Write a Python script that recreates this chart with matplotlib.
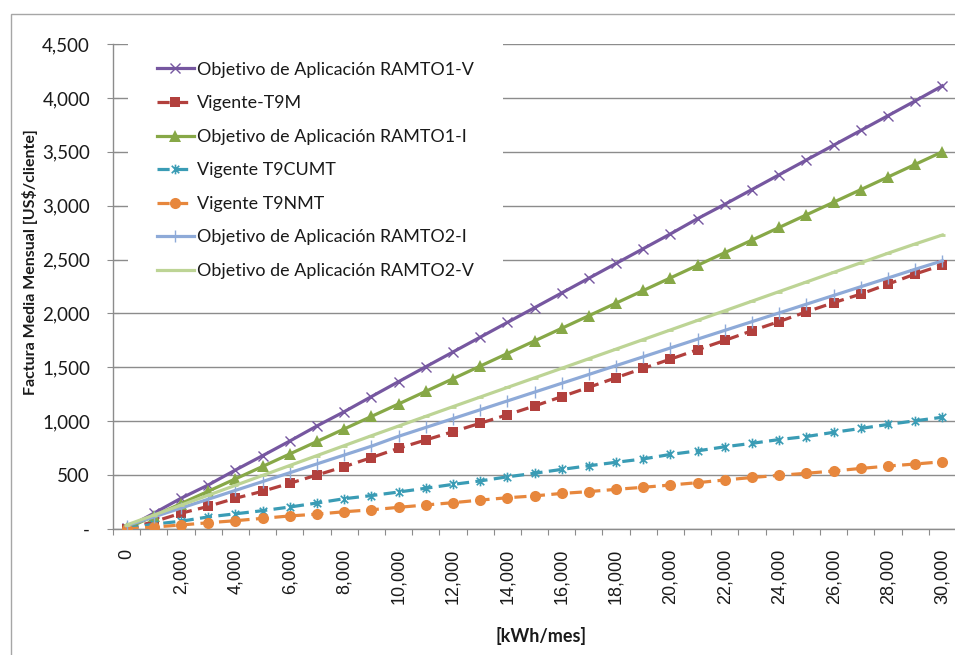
import matplotlib
matplotlib.use("Agg")
import matplotlib.pyplot as plt
from matplotlib.path import Path
from matplotlib.patches import Rectangle

# --- data -------------------------------------------------------------
kwh = [0, 1000, 2000, 3000, 4000, 5000, 6000, 7000, 8000, 9000, 10000,
       11000, 12000, 13000, 14000, 15000, 16000, 17000, 18000, 19000, 20000,
       21000, 22000, 23000, 24000, 25000, 26000, 27000, 28000, 29000, 30000]

ramto1_v = [10, 146, 285, 408, 547, 680, 816, 956, 1088, 1228, 1367,
            1505, 1642, 1779, 1916, 2053, 2190, 2327, 2464, 2601, 2738,
            2880, 3013, 3150, 3287, 3424, 3561, 3698, 3835, 3972, 4112]
vigente_t9m = [0, 68, 146, 210, 285, 350, 424, 501, 578, 662, 749,
               826, 903, 981, 1060, 1141, 1228, 1315, 1404, 1491, 1576,
               1664, 1750, 1840, 1925, 2015, 2100, 2180, 2272, 2366, 2449]
ramto1_i = [5, 120, 236, 350, 465, 580, 696, 812, 928, 1044, 1160,
            1277, 1394, 1511, 1628, 1745, 1862, 1979, 2096, 2213, 2330,
            2447, 2564, 2681, 2798, 2915, 3032, 3149, 3266, 3383, 3500]
vigente_t9cumt = [5, 45, 72, 112, 141, 170, 204, 241, 281, 310, 343,
                  378, 414, 446, 484, 517, 553, 587, 619, 650, 692,
                  725, 763, 795, 830, 858, 897, 933, 970, 1004, 1037]
vigente_t9nmt = [0, 18, 37, 58, 77, 99, 121, 138, 160, 178, 201,
                 223, 244, 268, 290, 307, 330, 347, 368, 387, 408,
                 430, 455, 478, 498, 517, 538, 562, 584, 603, 624]
ramto2_i = [30, 112, 194, 276, 358, 440, 522, 604, 686, 768, 860,
            942, 1024, 1106, 1188, 1270, 1352, 1434, 1516, 1598, 1680,
            1762, 1843, 1924, 2005, 2086, 2167, 2248, 2329, 2410, 2488]
ramto2_v = [37, 129, 221, 313, 405, 497, 589, 681, 773, 865, 955,
            1045, 1135, 1224, 1313, 1402, 1491, 1580, 1669, 1758, 1847,
            1936, 2025, 2114, 2203, 2292, 2381, 2470, 2559, 2645, 2728]

series_names = ["Objetivo de Aplicación RAMTO1-V", "Vigente-T9M",
                "Objetivo de Aplicación RAMTO1-I", "Vigente T9CUMT",
                "Vigente T9NMT", "Objetivo de Aplicación RAMTO2-I",
                "Objetivo de Aplicación RAMTO2-V"]

y_ticks = [0, 500, 1000, 1500, 2000, 2500, 3000, 3500, 4000, 4500]
y_tick_labels = ["-", "500", "1,000", "1,500", "2,000", "2,500",
                 "3,000", "3,500", "4,000", "4,500"]

x_label = "[kWh/mes]"
y_label = "Factura Media Mensual [US$/cliente]"

# --- styling ------------------------------------------------------------
GRID = "#8c8c8c"
FONT = "Lato"
TXT = "#1a1a1a"

# Excel-style asterisk: an X with a vertical bar through it
star = Path([(-1, -1), (1, 1), (-1, 1), (1, -1), (0, -1.3), (0, 1.3)],
            [Path.MOVETO, Path.LINETO, Path.MOVETO, Path.LINETO,
             Path.MOVETO, Path.LINETO])

W, H = 955, 655
fig = plt.figure(figsize=(W / 100, H / 100), dpi=100)
ax = fig.add_axes([113 / W, (H - 529) / H, 843 / W, 485 / H])

x = list(range(len(kwh)))
dash = (0, (3.8, 2.0))

ax.plot(x, ramto1_v, color="#7657a0", lw=2.3, marker="x", ms=7,
        mew=1.0, label=series_names[0], zorder=3)
ax.plot(x, vigente_t9m, color="#b2403d", lw=2.3, ls=dash, marker="s",
        ms=7.5, mew=0, label=series_names[1], zorder=3)
ax.plot(x, ramto1_i, color="#87a847", lw=2.3, marker="^", ms=8.5,
        mew=0, label=series_names[2], zorder=3)
ax.plot(x, vigente_t9cumt, color="#3a9cb5", lw=2.3, ls=dash, marker=star,
        ms=7, mew=1.2, label=series_names[3], zorder=3)
ax.plot(x, vigente_t9nmt, color="#e7873d", lw=2.3, ls=dash, marker="o",
        ms=8, mew=0, label=series_names[4], zorder=3)
ax.plot(x, ramto2_i, color="#8eaad8", lw=2.3, marker="|", ms=8,
        mew=1.0, label=series_names[5], zorder=3)
ax.plot(x, ramto2_v, color="#bdd495", lw=2.3, marker="_", ms=5,
        mew=2.0, label=series_names[6], zorder=3)

# axes limits / grid
ax.set_xlim(-0.5, len(kwh) - 0.5)
ax.set_ylim(0, 4500)
ax.set_yticks(y_ticks)
ax.set_yticklabels(y_tick_labels, fontfamily=FONT, fontsize=13.5,
                   color=TXT)
ax.yaxis.grid(True, color=GRID, lw=1.0)
ax.set_axisbelow(True)
ax.tick_params(axis="y", direction="inout", length=9, width=0.8,
               color=GRID, pad=12)

# category axis: labels on every other category, marks at boundaries
ax.set_xticks(x[::2])
ax.set_xticklabels([f"{v:,}" for v in kwh[::2]], rotation=90,
                   fontfamily="Liberation Sans", fontsize=13, color=TXT)
ax.set_xticks([i - 0.5 for i in range(len(kwh) + 1)], minor=True)
ax.tick_params(axis="x", which="major", length=0, pad=14)
ax.tick_params(axis="x", which="minor", direction="out", length=4,
               width=0.8, color=GRID)

for side in ("top", "right"):
    ax.spines[side].set_visible(False)
for side in ("left", "bottom"):
    ax.spines[side].set_color(GRID)
    ax.spines[side].set_linewidth(1.0)

fig.text(30 / W, 1 - 262 / H, y_label, rotation=90, ha="center",
         va="center", fontfamily=FONT, fontweight="bold", fontsize=11.5,
         color=TXT)
fig.text(541 / W, 1 - 636 / H, x_label, ha="center", va="center",
         fontfamily=FONT, fontweight="bold", fontsize=13, color=TXT)

leg = ax.legend(loc="upper left", bbox_to_anchor=(128 / W, 1 - 33 / H),
                bbox_transform=fig.transFigure, frameon=True,
                facecolor="white", edgecolor="none", framealpha=1,
                prop={"family": FONT, "size": 12.9}, handlelength=2.07,
                handletextpad=0.2, labelspacing=0.98, borderpad=1.6,
                numpoints=1, borderaxespad=0)
for t in leg.get_texts():
    t.set_color(TXT)

# chart-area border
fig.patches.append(Rectangle((11 / W, -0.1), 1.2, 1.1 - 14 / H,
                             transform=fig.transFigure, fill=False,
                             edgecolor="#a6a6a6", lw=1.0))

fig.savefig("out.png", dpi=100)
